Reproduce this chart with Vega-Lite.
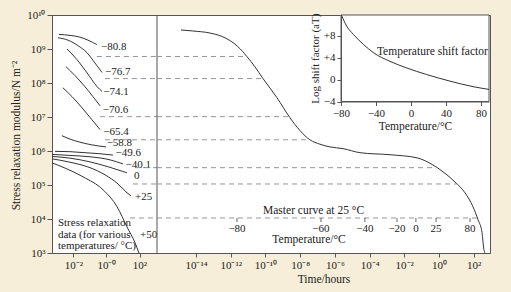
{
  "$schema": "https://vega.github.io/schema/vega-lite/v6.json",
  "width": 438,
  "height": 238,
  "autosize": "none",
  "padding": {"left": 52, "top": 15, "right": 21, "bottom": 39},
  "background": "#f6eed8",
  "config": {
    "view": {"fill": "white", "stroke": "#555", "strokeWidth": 1},
    "font": "Liberation Serif",
    "axis": {
      "labelFont": "Liberation Serif", "labelFontSize": 11, "labelColor": "#222",
      "titleFont": "Liberation Serif", "titleFontSize": 11.5, "titleFontWeight": "normal", "titleColor": "#222",
      "domainColor": "#555", "tickColor": "#555", "tickSize": 4, "grid": false, "labelPadding": 2,
      "labelOverlap": false, "labelFlush": false, "labelBound": false
    },
    "text": {"font": "Liberation Serif", "fontSize": 11, "color": "#222"}
  },
  "datasets": {
    "leftCurves": [
      {"c": "-80.8", "logt": -2.88, "logE": 9.43}, {"c": "-80.8", "logt": -2.21, "logE": 9.40}, {"c": "-80.8", "logt": -1.61, "logE": 9.35}, {"c": "-80.8", "logt": -1.12, "logE": 9.26}, {"c": "-80.8", "logt": -0.58, "logE": 9.13},
      {"c": "-76.7", "logt": -2.94, "logE": 9.33}, {"c": "-76.7", "logt": -2.33, "logE": 9.26}, {"c": "-76.7", "logt": -1.73, "logE": 9.10}, {"c": "-76.7", "logt": -1.18, "logE": 8.89}, {"c": "-76.7", "logt": -0.70, "logE": 8.59}, {"c": "-76.7", "logt": -0.27, "logE": 8.31},
      {"c": "-74.1", "logt": -2.39, "logE": 9.00}, {"c": "-74.1", "logt": -1.79, "logE": 8.69}, {"c": "-74.1", "logt": -1.18, "logE": 8.30}, {"c": "-74.1", "logt": -0.58, "logE": 7.90}, {"c": "-74.1", "logt": -0.27, "logE": 7.75},
      {"c": "-70.6", "logt": -2.45, "logE": 8.48}, {"c": "-70.6", "logt": -1.91, "logE": 8.22}, {"c": "-70.6", "logt": -1.30, "logE": 7.89}, {"c": "-70.6", "logt": -0.82, "logE": 7.60}, {"c": "-70.6", "logt": -0.39, "logE": 7.33},
      {"c": "-65.4", "logt": -2.64, "logE": 7.86}, {"c": "-65.4", "logt": -2.09, "logE": 7.60}, {"c": "-65.4", "logt": -1.48, "logE": 7.27}, {"c": "-65.4", "logt": -0.88, "logE": 6.92}, {"c": "-65.4", "logt": -0.39, "logE": 6.63},
      {"c": "-58.8", "logt": -2.70, "logE": 6.45}, {"c": "-58.8", "logt": -2.21, "logE": 6.35}, {"c": "-58.8", "logt": -1.61, "logE": 6.26}, {"c": "-58.8", "logt": -0.88, "logE": 6.18}, {"c": "-58.8", "logt": -0.03, "logE": 6.12},
      {"c": "-49.6", "logt": -3.12, "logE": 5.99}, {"c": "-49.6", "logt": -2.21, "logE": 5.98}, {"c": "-49.6", "logt": -1.30, "logE": 5.95}, {"c": "-49.6", "logt": -0.39, "logE": 5.92}, {"c": "-49.6", "logt": 0.39, "logE": 5.88},
      {"c": "-40.1", "logt": -3.30, "logE": 5.90}, {"c": "-40.1", "logt": -2.21, "logE": 5.87}, {"c": "-40.1", "logt": -1.00, "logE": 5.83}, {"c": "-40.1", "logt": 0.21, "logE": 5.74}, {"c": "-40.1", "logt": 1.00, "logE": 5.62},
      {"c": "0", "logt": -3.30, "logE": 5.84}, {"c": "0", "logt": -2.21, "logE": 5.79}, {"c": "0", "logt": -1.00, "logE": 5.68}, {"c": "0", "logt": 0.21, "logE": 5.52}, {"c": "0", "logt": 1.24, "logE": 5.36},
      {"c": "+25", "logt": -3.30, "logE": 5.77}, {"c": "+25", "logt": -2.21, "logE": 5.67}, {"c": "+25", "logt": -1.00, "logE": 5.51}, {"c": "+25", "logt": -0.09, "logE": 5.30}, {"c": "+25", "logt": 0.70, "logE": 5.03}, {"c": "+25", "logt": 1.18, "logE": 4.80}, {"c": "+25", "logt": 1.48, "logE": 4.68},
      {"c": "+50", "logt": -3.30, "logE": 5.65}, {"c": "+50", "logt": -2.52, "logE": 5.50}, {"c": "+50", "logt": -1.42, "logE": 5.24}, {"c": "+50", "logt": -0.21, "logE": 4.86}, {"c": "+50", "logt": 0.64, "logE": 4.36}, {"c": "+50", "logt": 1.24, "logE": 3.77}, {"c": "+50", "logt": 1.73, "logE": 3.30}, {"c": "+50", "logt": 1.97, "logE": 3.0}
    ],
    "leftLabels": [
      {"label": "−80.8", "logt": -0.33, "logE": 9.07},
      {"label": "−76.7", "logt": -0.09, "logE": 8.31},
      {"label": "−74.1", "logt": -0.19, "logE": 7.75},
      {"label": "−70.6", "logt": -0.23, "logE": 7.21},
      {"label": "−65.4", "logt": -0.19, "logE": 6.56},
      {"label": "−58.8", "logt": 0.01, "logE": 6.24},
      {"label": "−49.6", "logt": 0.55, "logE": 5.93},
      {"label": "−40.1", "logt": 1.15, "logE": 5.60},
      {"label": "0", "logt": 1.67, "logE": 5.26},
      {"label": "+25", "logt": 1.73, "logE": 4.64},
      {"label": "+50", "logt": 2.03, "logE": 3.52}
    ],
    "dashL": [
      {"logt1": -0.58, "logt2": 3.06, "logE": 8.78},
      {"logt1": -0.09, "logt2": 3.06, "logE": 8.13},
      {"logt1": -0.39, "logt2": 3.06, "logE": 7.01},
      {"logt1": -0.09, "logt2": 3.06, "logE": 6.33},
      {"logt1": 1.73, "logt2": 3.06, "logE": 5.51},
      {"logt1": 1.61, "logt2": 3.06, "logE": 5.03},
      {"logt1": 1.42, "logt2": 3.06, "logE": 4.03}
    ],
    "dashR": [
      {"logt1": -16.25, "logt2": -11.07, "logE": 8.78},
      {"logt1": -16.25, "logt2": -10.14, "logE": 8.13},
      {"logt1": -16.25, "logt2": -8.62, "logE": 7.01},
      {"logt1": -16.25, "logt2": -7.44, "logE": 6.33},
      {"logt1": -16.25, "logt2": -0.12, "logE": 5.51},
      {"logt1": -16.25, "logt2": 1.04, "logE": 5.03},
      {"logt1": -16.25, "logt2": 2.24, "logE": 4.03}
    ],
    "master": [
      {"logt": -14.87, "logE": 9.56}, {"logt": -14.18, "logE": 9.53}, {"logt": -13.20, "logE": 9.47}, {"logt": -12.51, "logE": 9.37},
      {"logt": -12.05, "logE": 9.25}, {"logt": -11.59, "logE": 9.07}, {"logt": -11.07, "logE": 8.78}, {"logt": -10.61, "logE": 8.48},
      {"logt": -10.14, "logE": 8.13}, {"logt": -9.34, "logE": 7.57}, {"logt": -8.59, "logE": 6.98}, {"logt": -8.01, "logE": 6.60},
      {"logt": -7.44, "logE": 6.33}, {"logt": -6.86, "logE": 6.20}, {"logt": -6.28, "logE": 6.12}, {"logt": -5.53, "logE": 6.07},
      {"logt": -4.55, "logE": 5.95}, {"logt": -2.82, "logE": 5.89}, {"logt": -1.27, "logE": 5.80}, {"logt": -0.35, "logE": 5.59},
      {"logt": 0.23, "logE": 5.39}, {"logt": 0.92, "logE": 5.09}, {"logt": 1.50, "logE": 4.77}, {"logt": 1.96, "logE": 4.36},
      {"logt": 2.25, "logE": 3.98}, {"logt": 2.48, "logE": 3.60}, {"logt": 2.59, "logE": 3.10}, {"logt": 2.65, "logE": 3.0}
    ],
    "tempTicks": [
      {"label": "−80", "logt": -11.64}, {"label": "−60", "logt": -6.80}, {"label": "−40", "logt": -4.27},
      {"label": "−20", "logt": -2.42}, {"label": "0", "logt": -1.33}, {"label": "25", "logt": -0.17}, {"label": "80", "logt": 1.79}
    ],
    "shift": [
      {"T": -79.5, "a": 11.7}, {"T": -73.5, "a": 9.7}, {"T": -65.9, "a": 8.2}, {"T": -54.5, "a": 6.4},
      {"T": -43.1, "a": 4.9}, {"T": -24.0, "a": 3.3}, {"T": -4.9, "a": 2.1}, {"T": 17.9, "a": 0.9},
      {"T": 44.6, "a": -0.3}, {"T": 70.9, "a": -1.3}, {"T": 89.0, "a": -1.8}
    ]
  },
  "layer": [
    {
      "layer": [
        {
          "data": {"name": "leftCurves"},
          "mark": {"type": "line", "color": "#333", "strokeWidth": 1, "interpolate": "monotone"},
          "encoding": {
            "x": {"field": "logt", "type": "quantitative",
              "scale": {"domain": [-3.3, 3.06], "range": [0, 105], "nice": false, "zero": false},
              "axis": {"orient": "bottom", "values": [-2, 0, 2], "tickCount": 20, "title": null, "labelOverlap": false,
                "labelExpr": "datum.value == -2 ? '10⁻²' : datum.value == 0 ? '10⁻⁰' : '10²'"}},
            "y": {"field": "logE", "type": "quantitative",
              "scale": {"domain": [3, 10], "nice": false, "zero": false},
              "axis": {"values": [3, 4, 5, 6, 7, 8, 9, 10], "tickCount": 20, "tickSize": 5, "labelPadding": 2,
                "labelOverlap": false, "labelFlush": false, "labelBound": false, "labelBaseline": "middle",
                "title": "Stress relaxation modulus/N m⁻²", "titleX": -36, "titleY": 120, "titleAngle": -90,
                "titleAlign": "center", "titleBaseline": "middle",
                "labelExpr": "'10' + replace(replace(replace(replace(replace(replace(replace(replace(replace(replace(replace(toString(datum.value),/-/g,'⁻'),/0/g,'⁰'),/1/g,'¹'),/2/g,'²'),/3/g,'³'),/4/g,'⁴'),/5/g,'⁵'),/6/g,'⁶'),/7/g,'⁷'),/8/g,'⁸'),/9/g,'⁹')"}},
            "detail": {"field": "c"}
          }
        },
        {
          "data": {"name": "leftLabels"},
          "mark": {"type": "text", "align": "left", "baseline": "middle", "fontSize": 11},
          "encoding": {
            "x": {"field": "logt", "type": "quantitative"},
            "y": {"field": "logE", "type": "quantitative"},
            "text": {"field": "label"}
          }
        },
        {
          "data": {"name": "dashL"},
          "mark": {"type": "rule", "color": "#8a8a8a", "strokeWidth": 0.9, "strokeDash": [5, 4]},
          "encoding": {
            "x": {"field": "logt1", "type": "quantitative"},
            "x2": {"field": "logt2"},
            "y": {"field": "logE", "type": "quantitative"}
          }
        },
        {
          "data": {"values": [{"logt": 3.06}]},
          "mark": {"type": "rule", "color": "#555", "strokeWidth": 1},
          "encoding": {"x": {"field": "logt", "type": "quantitative"}}
        },
        {
          "data": {"values": [{"logt": -2.94, "logE": 4.06, "note": ["Stress relaxation", "data (for various", "temperatures/ °C)"]}]},
          "mark": {"type": "text", "align": "left", "baseline": "top", "fontSize": 11, "lineHeight": 11.7},
          "encoding": {
            "x": {"field": "logt", "type": "quantitative"},
            "y": {"field": "logE", "type": "quantitative"},
            "text": {"field": "note"}
          }
        }
      ]
    },
    {
      "layer": [
        {
          "data": {"name": "master"},
          "mark": {"type": "line", "color": "#333", "strokeWidth": 1, "interpolate": "monotone"},
          "encoding": {
            "x": {"field": "logt", "type": "quantitative",
              "scale": {"domain": [-16.25, 2.94], "range": [105, 438], "nice": false, "zero": false},
              "axis": {"orient": "bottom", "values": [-14, -12, -10, -8, -6, -4, -2, 0, 2], "tickCount": 20, "title": "Time/hours", "titlePadding": 3,
                "labelOverlap": false,
                "labelExpr": "'10' + replace(replace(replace(replace(replace(replace(replace(replace(replace(replace(replace(toString(datum.value),/-/g,'⁻'),/0/g,'⁰'),/1/g,'¹'),/2/g,'²'),/3/g,'³'),/4/g,'⁴'),/5/g,'⁵'),/6/g,'⁶'),/7/g,'⁷'),/8/g,'⁸'),/9/g,'⁹')"}},
            "y": {"field": "logE", "type": "quantitative",
              "scale": {"domain": [3, 10], "nice": false, "zero": false}, "axis": null}
          }
        },
        {
          "data": {"name": "dashR"},
          "mark": {"type": "rule", "color": "#8a8a8a", "strokeWidth": 0.9, "strokeDash": [5, 4]},
          "encoding": {
            "x": {"field": "logt1", "type": "quantitative"},
            "x2": {"field": "logt2"},
            "y": {"field": "logE", "type": "quantitative", "axis": null}
          }
        },
        {
          "data": {"name": "tempTicks"},
          "mark": {"type": "rule", "color": "#555", "strokeWidth": 0.9},
          "encoding": {
            "x": {"field": "logt", "type": "quantitative"},
            "y": {"datum": 4.03, "type": "quantitative", "axis": null},
            "y2": {"datum": 3.91}
          }
        },
        {
          "data": {"name": "tempTicks"},
          "mark": {"type": "text", "align": "center", "baseline": "middle", "fontSize": 11},
          "encoding": {
            "x": {"field": "logt", "type": "quantitative"},
            "y": {"datum": 3.71, "type": "quantitative", "axis": null},
            "text": {"field": "label"}
          }
        },
        {
          "data": {"values": [
            {"logt": -10.14, "logE": 4.24, "t": "Master curve at 25 °C"}
          ]},
          "mark": {"type": "text", "align": "left", "baseline": "middle", "fontSize": 11.5},
          "encoding": {
            "x": {"field": "logt", "type": "quantitative"},
            "y": {"field": "logE", "type": "quantitative", "axis": null},
            "text": {"field": "t"}
          }
        },
        {
          "data": {"values": [
            {"logt": -7.49, "logE": 3.38, "t": "Temperature/°C"}
          ]},
          "mark": {"type": "text", "align": "center", "baseline": "middle", "fontSize": 11.5},
          "encoding": {
            "x": {"field": "logt", "type": "quantitative"},
            "y": {"field": "logE", "type": "quantitative", "axis": null},
            "text": {"field": "t"}
          }
        }
      ]
    },
    {
      "layer": [
        {
          "data": {"values": [{"T1": -80, "T2": 89.1, "a1": -4, "a2": 11.73}]},
          "mark": {"type": "rect", "fill": "white", "stroke": "#555", "strokeWidth": 1},
          "encoding": {
            "x": {"field": "T1", "type": "quantitative",
              "scale": {"domain": [-80, 89.1], "range": [289, 437], "nice": false, "zero": false},
              "axis": {"orient": "bottom", "offset": -151.5, "values": [-80, -40, 0, 40, 80], "tickCount": 20, "title": "Temperature/°C",
                "zindex": 2, "titlePadding": 2, "labelOverlap": false}},
            "x2": {"field": "T2"},
            "y": {"field": "a1", "type": "quantitative",
              "scale": {"domain": [-4, 11.73], "range": [86.5, 0], "nice": false, "zero": false},
              "axis": {"orient": "left", "offset": -289, "values": [-4, 0, 4, 8], "tickCount": 20, "title": "Log shift factor (aT)",
                "titleFontSize": 11, "zindex": 2, "titlePadding": 3, "labelOverlap": false,
                "labelExpr": "datum.value > 0 ? '+' + datum.label : datum.label"}},
            "y2": {"field": "a2"}
          }
        },
        {
          "data": {"name": "shift"},
          "mark": {"type": "line", "color": "#333", "strokeWidth": 1, "interpolate": "monotone", "clip": true},
          "encoding": {
            "x": {"field": "T", "type": "quantitative"},
            "y": {"field": "a", "type": "quantitative"}
          }
        },
        {
          "data": {"values": [{"T": -39, "a": 5.09, "t": "Temperature shift factor"}]},
          "mark": {"type": "text", "align": "left", "baseline": "middle", "fontSize": 11.5},
          "encoding": {
            "x": {"field": "T", "type": "quantitative"},
            "y": {"field": "a", "type": "quantitative"},
            "text": {"field": "t"}
          }
        }
      ]
    }
  ],
  "resolve": {"scale": {"x": "independent", "y": "independent"}, "axis": {"x": "independent", "y": "independent"}}
}
